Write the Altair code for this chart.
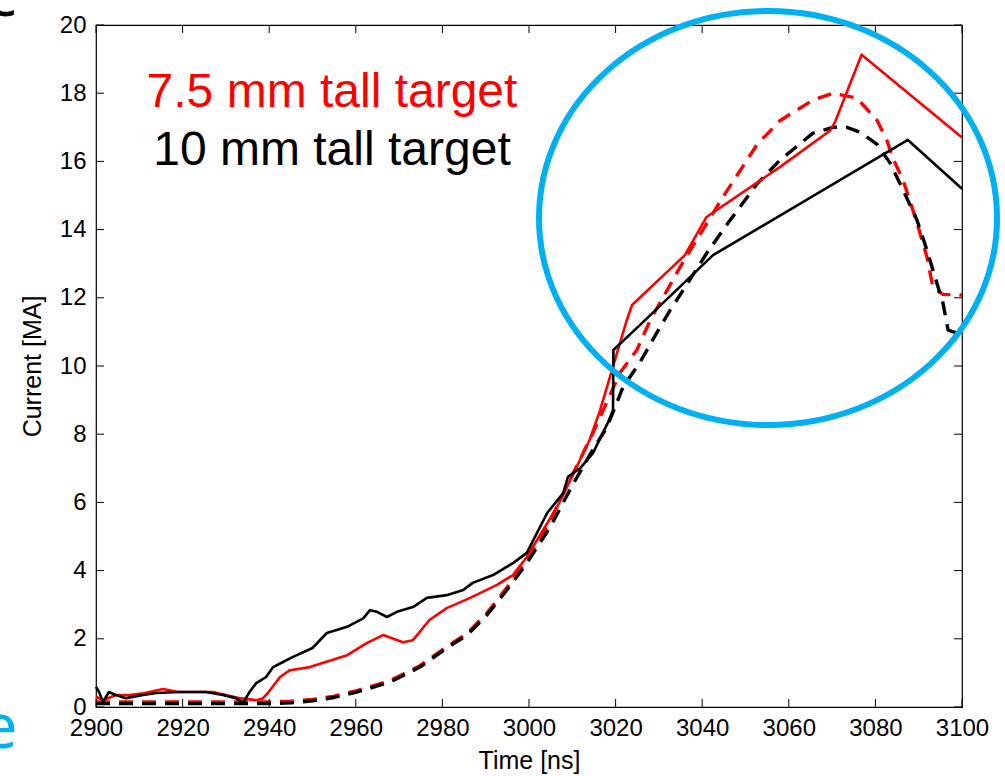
import altair as alt
import pandas as pd

# ---------------- data ----------------
# 10 mm tall target, solid black
bs_t = [2900, 2900.7, 2901.6, 2903, 2904.6, 2906.9, 2910.9, 2913.9, 2919.2, 2925.4, 2929.3, 2932.3,
        2934, 2935.3, 2937, 2939.3, 2940.9, 2943.2, 2945.5, 2950, 2953.3, 2958, 2961.7, 2963.3,
        2964.9, 2967.2, 2969.5, 2973.2, 2976.4, 2981, 2984.8, 2987, 2991.7, 2996.3, 2999.5, 3004.2,
        3007.9, 3009, 3011.8, 3014.8, 3017, 3018.2, 3019.4, 3019.5, 3025.6, 3042.5, 3087.5, 3100]
bs_i = [0.59, 0.44, 0.15, 0.44, 0.35, 0.26, 0.35, 0.41, 0.44, 0.44, 0.35, 0.26,
        0.12, 0.41, 0.70, 0.88, 1.17, 1.32, 1.47, 1.73, 2.17, 2.35, 2.60, 2.84,
        2.79, 2.64, 2.79, 2.93, 3.20, 3.28, 3.43, 3.64, 3.87, 4.22, 4.52, 5.69,
        6.27, 6.75, 7.00, 7.45, 8.03, 8.33, 8.70, 10.47, 11.2, 13.25, 16.63, 15.2]

# 7.5 mm tall target, solid red
rs_t = [2900, 2901.6, 2904.6, 2907.7, 2911, 2915.5, 2919, 2927, 2933, 2937, 2938.5, 2939.7,
        2942.5, 2944.8, 2949.4, 2958, 2962.6, 2966.3, 2970.9, 2973.2, 2977, 2981, 2986.4, 2992.6,
        2996.3, 2999.5, 3006.5, 3011, 3014, 3016.4, 3018.7, 3021, 3022.6, 3023.8, 3036, 3041,
        3058, 3069.5, 3070.7, 3076.8, 3100]
rs_i = [0.30, 0.20, 0.35, 0.35, 0.40, 0.53, 0.44, 0.44, 0.26, 0.20, 0.25, 0.41,
        0.88, 1.08, 1.17, 1.52, 1.88, 2.11, 1.90, 1.96, 2.55, 2.90, 3.20, 3.58,
        3.87, 4.40, 5.87, 7.04, 7.83, 8.70, 9.68, 10.67, 11.35, 11.79, 13.25, 14.37,
        15.84, 16.90, 17.16, 19.13, 16.70]

# 7.5 mm tall target, dashed red
rd_t = [2900, 2910, 2920, 2930, 2940, 2945, 2950, 2955, 2960.3, 2967.9, 2974.8, 2981,
        2985.7, 2990.3, 2994.9, 2999.5, 3005, 3010, 3015, 3021, 3024.9, 3028, 3034.9, 3044.8,
        3052.7, 3058, 3065.6, 3070.2, 3075.7, 3080.4, 3082.7, 3084, 3086.4, 3089.6, 3091.9,
        3093.3, 3095.6, 3100]
rd_i = [0.15, 0.15, 0.15, 0.15, 0.15, 0.17, 0.22, 0.32, 0.48, 0.77, 1.21, 1.77,
        2.16, 2.76, 3.50, 4.30, 5.50, 6.80, 8.10, 9.80, 10.47, 11.35, 12.90, 14.96,
        16.50, 17.20, 17.80, 18.00, 17.86, 17.20, 16.60, 16.10, 15.45, 14.20, 13.20,
        12.30, 12.10, 12.08]

# 10 mm tall target, dashed black
bd_t = [2900, 2910, 2920, 2930, 2940, 2945, 2950, 2955, 2960.3, 2967.9, 2974.8, 2981,
        2985.7, 2990.3, 2994.9, 2999.5, 3005, 3010, 3015, 3018, 3021.7, 3025.6, 3029.5, 3032.6,
        3036, 3041, 3046, 3052.7, 3058, 3065.6, 3070.2, 3073.4, 3076.4, 3080.4, 3083.4, 3086.4,
        3089.6, 3091.9, 3094.2, 3095.6, 3096.8, 3098.8, 3100]
bd_i = [0.10, 0.10, 0.10, 0.10, 0.10, 0.12, 0.18, 0.28, 0.44, 0.73, 1.17, 1.73,
        2.11, 2.70, 3.43, 4.22, 5.30, 6.50, 7.60, 8.20, 9.38, 10.10, 10.97, 11.64,
        12.30, 13.30, 14.20, 15.35, 16.04, 16.83, 17.00, 17.00, 16.86, 16.50, 15.95, 15.16,
        14.28, 13.40, 12.43, 11.85, 11.05, 10.97, 11.00]

x_ticks = [2900, 2920, 2940, 2960, 2980, 3000, 3020, 3040, 3060, 3080, 3100]
y_ticks = [0, 2, 4, 6, 8, 10, 12, 14, 16, 18, 20]

legend_text = ["7.5 mm tall target", "10 mm tall target"]
legend_color = ["#ff0000", "#000000"]
legend_t = [2954.5, 2954.5]
legend_i = [17.6, 15.9]

# blue highlight ellipse (center in data units)
ell_t = [3055.2]
ell_i = [14.34]

# cropped slide fragments around the figure
frag_text = ["e", "c"]
frag_color = ["#00b0f0", "#000000"]
frag_t = [2877.8, 2878.2]
frag_i = [-1.2, 20.25]

# ---------------- chart ----------------
W, H = 866, 682
FONT = "Liberation Sans"

xs = alt.Scale(domain=[2900, 3100], nice=False, zero=False)
ys = alt.Scale(domain=[0, 20], nice=False, zero=False)

x_axis = alt.Axis(values=x_ticks, format="d", ticks=False, domain=False, grid=False,
                  labelFont=FONT, labelFontSize=24, labelColor="black", labelPadding=9,
                  titleFont=FONT, titleFontSize=25, titleFontWeight="normal",
                  titleColor="black", titlePadding=8, labelFlush=False)
y_axis = alt.Axis(values=y_ticks, format="d", ticks=False, domain=False, grid=False,
                  labelFont=FONT, labelFontSize=24, labelColor="black", labelPadding=10,
                  titleFont=FONT, titleFontSize=25, titleFontWeight="normal",
                  titleColor="black", titlePadding=14, labelFlush=False)


def X():
    return alt.X("t:Q", scale=xs, axis=x_axis, title="Time [ns]")


def Y():
    return alt.Y("i:Q", scale=ys, axis=y_axis, title="Current [MA]")


def series(t, i, color, dash=None, width=2.5):
    df = pd.DataFrame({"t": t, "i": i, "k": list(range(len(t)))})
    kw = dict(color=color, strokeWidth=width, strokeCap="butt", strokeJoin="round")
    if dash:
        kw["strokeDash"] = dash
    return alt.Chart(df).mark_line(**kw).encode(x=X(), y=Y(), order="k:Q")


l_rd = series(rd_t, rd_i, "#ff0000", dash=[14, 9], width=3.4)
l_bd = series(bd_t, bd_i, "#000000", dash=[14, 9], width=3.4)
l_rs = series(rs_t, rs_i, "#ff0000", width=2.6)
l_bs = series(bs_t, bs_i, "#000000", width=2.6)

xt = pd.DataFrame({"t": x_ticks})
yt = pd.DataFrame({"i": y_ticks})
tick_kw = dict(color="black", strokeWidth=1)
t_bottom = alt.Chart(xt).mark_rule(**tick_kw).encode(x=X(), y=alt.value(H), y2=alt.value(H - 8))
t_top = alt.Chart(xt).mark_rule(**tick_kw).encode(x=X(), y=alt.value(0), y2=alt.value(8))
t_left = alt.Chart(yt).mark_rule(**tick_kw).encode(y=Y(), x=alt.value(0), x2=alt.value(8))
t_right = alt.Chart(yt).mark_rule(**tick_kw).encode(y=Y(), x=alt.value(W), x2=alt.value(W - 8))

leg_df = pd.DataFrame({"t": legend_t, "i": legend_i, "s": legend_text, "c": legend_color})
legend = alt.Chart(leg_df).mark_text(
    font="Liberation Sans", fontSize=48, align="center", baseline="alphabetic").encode(
    x=X(), y=Y(), text="s:N", color=alt.Color("c:N", scale=None))

frag_df = pd.DataFrame({"t": frag_t, "i": frag_i, "s": frag_text, "c": frag_color})
frags = alt.Chart(frag_df).mark_text(
    font="Noto Sans", fontSize=62, align="center", baseline="alphabetic").encode(
    x=X(), y=Y(), text="s:N", color=alt.Color("c:N", scale=None))

# ellipse outline as a custom symbol (unit box, rx=1, ry=0.904)
k = 0.5523
r = 0.904
ELLIPSE = (f"M -1 0 C -1 {-k*r:.4f} {-k} {-r} 0 {-r} "
           f"C {k} {-r} 1 {-k*r:.4f} 1 0 "
           f"C 1 {k*r:.4f} {k} {r} 0 {r} "
           f"C {-k} {r} -1 {k*r:.4f} -1 0 Z")
ell_df = pd.DataFrame({"t": ell_t, "i": ell_i})
ellipse = alt.Chart(ell_df).mark_point(
    shape=ELLIPSE, size=458 ** 2, filled=False, color="#00b0f0", stroke="#00b0f0",
    strokeWidth=6, opacity=1, strokeOpacity=1).encode(x=X(), y=Y())

chart = alt.layer(
    l_rd, l_bd, l_rs, l_bs, t_bottom, t_top, t_left, t_right, legend, frags, ellipse
).properties(
    width=W, height=H,
    autosize=alt.AutoSizeParams(type="none"),
    padding={"left": 96, "top": 25, "right": 43, "bottom": 69},
    background="white",
).configure_view(stroke="black", strokeWidth=1.2)

chart.save("out.html", embed_options={"renderer": "svg", "actions": False})
